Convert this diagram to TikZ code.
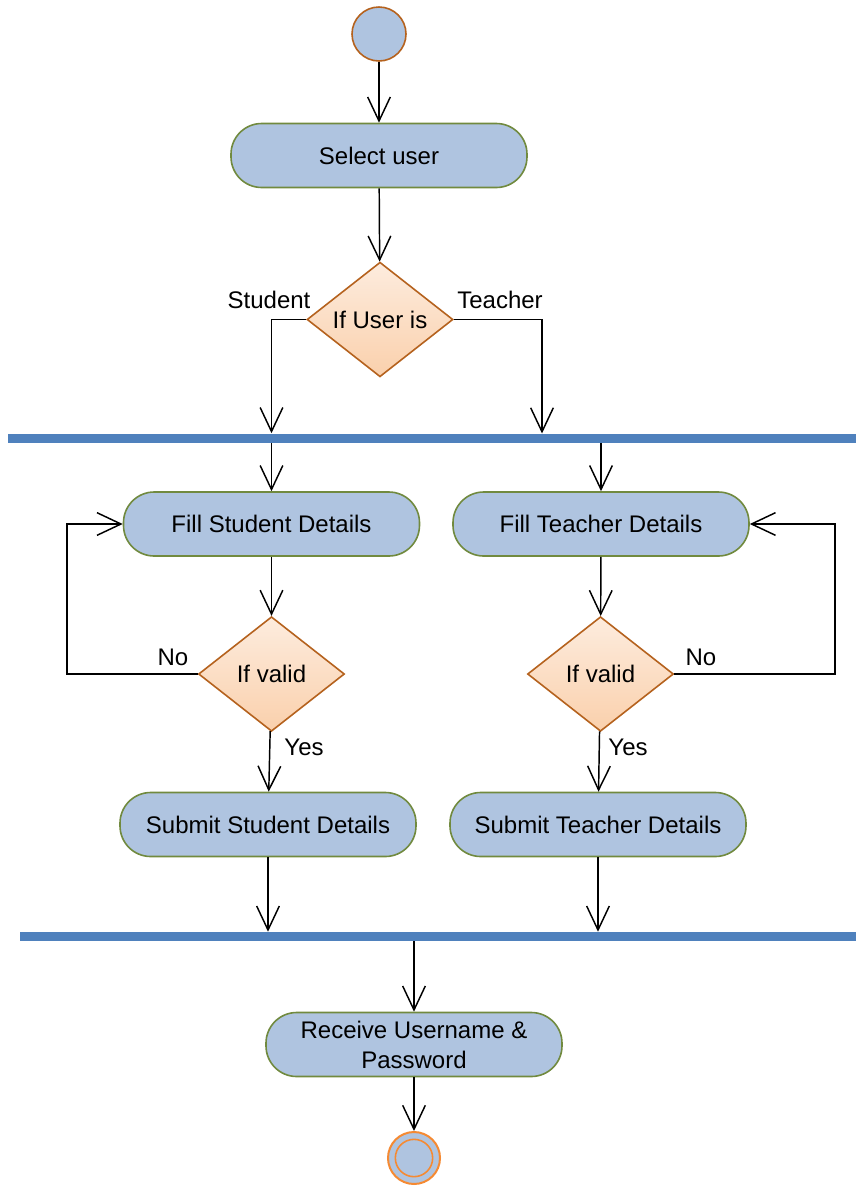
\documentclass[tikz,border=0pt]{standalone}
\usepackage{fontspec}
\setmainfont{Liberation Sans}
\usetikzlibrary{arrows.meta}
\usetikzlibrary{shapes.geometric}
\usetikzlibrary{positioning}
\definecolor{actblue}{HTML}{AFC4E0}
\definecolor{actline}{HTML}{718A3F}
\definecolor{decline}{HTML}{B5621E}
\definecolor{dectop}{HTML}{FDECDE}
\definecolor{decbot}{HTML}{FAD0AC}
\definecolor{barblue}{HTML}{4F81BD}
\definecolor{endline}{HTML}{F58A33}
\tikzset{flow/.style = {-{Straight Barb[length=18pt, width=17pt, line width=1.1pt]}, line width=1.1pt}}
\tikzset{act/.style = {draw=actline, fill=actblue, line width=1.2pt, rounded corners=23pt,
                       minimum width=222pt, minimum height=48pt, align=center,
                       font=\fontsize{18}{22.5}\selectfont}}
\tikzset{dec/.style = {diamond, draw=decline, top color=dectop, bottom color=decbot, line width=1.2pt,
                       minimum width=109.5pt, minimum height=86pt, inner sep=0,
                       font=\fontsize{18}{22.5}\selectfont}}
\tikzset{bar/.style = {fill=barblue, inner sep=0, minimum height=6.75pt}}
\tikzset{lbl/.style = {inner sep=0, font=\fontsize{18}{22.5}\selectfont}}
\tikzset{initial/.style = {circle, draw=decline, fill=actblue, line width=1.2pt, minimum size=40.5pt, inner sep=0}}
\tikzset{final/.style = {circle, draw=endline, fill=actblue, line width=1.5pt, minimum size=39pt, inner sep=0}}
\begin{document}
\begin{tikzpicture}[x=0.75pt, y=-0.75pt]
      \useasboundingbox (0, 0) rectangle (856, 1186);
      \node [initial] (start) at (379, 34) {};
      \node [act] (select) at (379, 155.5) {Select user};
      \node [dec] (ifuser) at (380, 319.5) {If User is};
      \node [bar, minimum width = 636pt] (fork) at (432, 438) {};
      \node [act] (fillS) at (271.5, 524) {Fill Student Details};
      \node [act] (fillT) at (601, 524) {Fill Teacher Details};
      \node [dec] (validS) at (271.5, 674) {If valid};
      \node [dec] (validT) at (600.5, 674) {If valid};
      \node [act] (submitS) at (268, 824.5) {Submit Student Details};
      \node [act] (submitT) at (598, 824.5) {Submit Teacher Details};
      \node [bar, minimum width = 627pt] (join) at (438, 936.5) {};
      \node [act] (receive) at (414, 1044.5) {Receive Username \&\\Password};
      \node [final] (stop) at (414, 1158) {};
      \draw [endline, line width = 1.2pt] (stop.center) circle [radius = 14pt];
      \node [lbl] (student) at (269, 300) {Student};
      \node [lbl] (teacher) at (500, 300) {Teacher};
      \node [lbl] (noS) at (173, 657) {No};
      \node [lbl] (noT) at (701, 657) {No};
      \node [lbl] (yesS) at (304, 747) {Yes};
      \node [lbl] (yesT) at (628, 747) {Yes};
      \coordinate (tdrop) at (542, 433.5);
      \coordinate (loopS) at (67, 674);
      \coordinate (loopT) at (835, 674);
      \draw [flow] (start) -- (select);
      \draw [flow] (select) -- (ifuser);
      \draw [flow] (ifuser.west) -| (fork.north -| fillS);
      \draw [flow] (ifuser.east) -| (tdrop);
      \draw [flow] (fork.south -| fillS) -- (fillS);
      \draw [flow] (fork.south -| fillT) -- (fillT);
      \draw [flow] (fillS) -- (validS);
      \draw [flow] (fillT) -- (validT);
      \draw [flow] (validS.west) -- (loopS) |- (fillS.west);
      \draw [flow] (validT.east) -- (loopT) |- (fillT.east);
      \draw [flow] (validS) -- (submitS);
      \draw [flow] (validT) -- (submitT);
      \draw [flow] (submitS) -- (join.north -| submitS);
      \draw [flow] (submitT) -- (join.north -| submitT);
      \draw [flow] (join.south -| receive) -- (receive);
      \draw [flow] (receive) -- (stop);
    \end{tikzpicture}
\end{document}
